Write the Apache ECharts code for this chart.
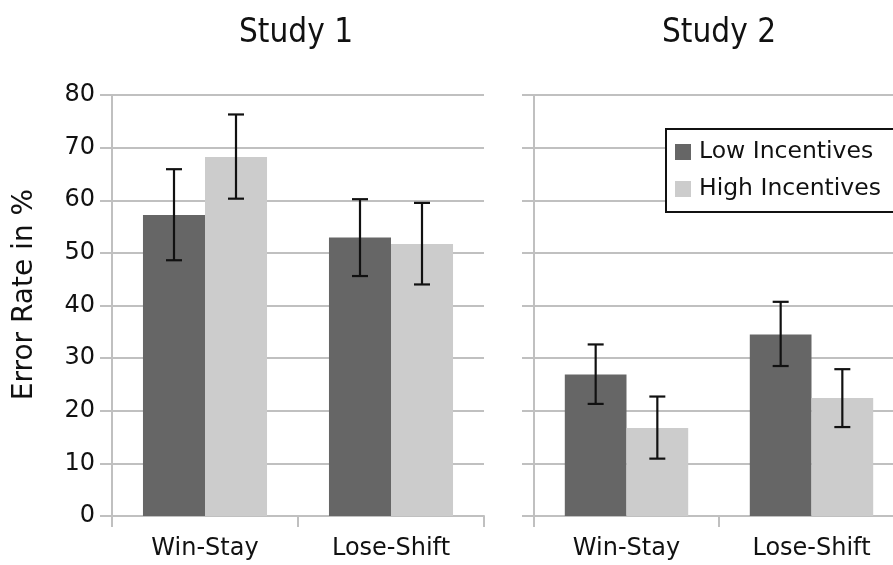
<!DOCTYPE html>
<html>
<head>
<meta charset="utf-8">
<script src="https://cdn.jsdelivr.net/npm/echarts@6/dist/echarts.min.js"></script>
<style>
  html, body { margin: 0; padding: 0; background: #fff; }
  #chart { width: 893px; height: 565px; }
</style>
</head>
<body>
<div id="chart"></div>
<script>
const categories = ['Win-Stay', 'Lose-Shift'];
const panelTitles = ['Study 1', 'Study 2'];
const seriesNames = ['Low Incentives', 'High Incentives'];

// error rate in %, per category
const study1Low = [57.2, 52.9];
const study1High = [68.2, 51.7];
const study2Low = [26.9, 34.5];
const study2High = [16.7, 22.4];

// error bars [lower, upper]
const study1LowErr = [[48.6, 65.9], [45.6, 60.2]];
const study1HighErr = [[60.3, 76.3], [44.0, 59.5]];
const study2LowErr = [[21.3, 32.6], [28.5, 40.7]];
const study2HighErr = [[10.9, 22.7], [16.9, 27.9]];

const yTicks = { min: 0, max: 80, interval: 10 };

const DARK = '#666666';
const LIGHT = '#cccccc';
const GRIDLINE = '#c0c0c0';
const FONT = 'DejaVu Sans';
const TITLE_FONT = '"DejaVu Sans Condensed", "DejaVu Sans"';

// error bar drawn at the centre of one of the two bars in a category
const errRender = (side) => (params, api) => {
  const x = api.value(0);
  const lo = api.coord([x, api.value(1)]);
  const hi = api.coord([x, api.value(2)]);
  const band = api.size([1, 0])[0];
  const cx = lo[0] + side * band / 6;
  const half = 8;
  const style = { stroke: '#111', lineWidth: 2.2 };
  return {
    type: 'group',
    children: [
      { type: 'line', shape: { x1: cx, y1: lo[1], x2: cx, y2: hi[1] }, style },
      { type: 'line', shape: { x1: cx - half, y1: lo[1], x2: cx + half, y2: lo[1] }, style },
      { type: 'line', shape: { x1: cx - half, y1: hi[1], x2: cx + half, y2: hi[1] }, style }
    ]
  };
};

const errData = (arr) => arr.map((e, i) => [i, e[0], e[1]]);

const makeXAxis = (gridIndex) => ({
  type: 'category',
  gridIndex,
  data: categories,
  axisLine: { lineStyle: { color: GRIDLINE, width: 2 } },
  axisTick: { show: true, length: 11, lineStyle: { color: GRIDLINE, width: 2 } },
  axisLabel: { color: '#111', fontFamily: FONT, fontSize: 24, margin: 21 }
});

const makeYAxis = (gridIndex, showLabels) => ({
  type: 'value',
  gridIndex,
  min: yTicks.min,
  max: yTicks.max,
  interval: yTicks.interval,
  name: showLabels ? 'Error Rate in %' : '',
  nameLocation: 'middle',
  nameRotate: 90,
  nameGap: 73,
  nameTextStyle: { color: '#111', fontFamily: FONT, fontSize: 28, padding: [0, 0, 0, 22] },
  axisLine: { show: true, lineStyle: { color: GRIDLINE, width: 2 } },
  axisTick: { show: true, inside: false, length: 12, lineStyle: { color: GRIDLINE, width: 2 } },
  axisLabel: { show: showLabels, color: '#111', fontFamily: FONT, fontSize: 24, margin: 17 },
  splitLine: { show: true, lineStyle: { color: GRIDLINE, width: 2 } }
});

const barSeries = (name, data, color, idx) => ({
  name,
  type: 'bar',
  xAxisIndex: idx,
  yAxisIndex: idx,
  data,
  barGap: '0%',
  barCategoryGap: '33.3%',
  itemStyle: { color },
  silent: true
});

const errSeries = (data, side, idx) => ({
  type: 'custom',
  xAxisIndex: idx,
  yAxisIndex: idx,
  data: errData(data),
  encode: { x: 0, y: [1, 2] },
  renderItem: errRender(side),
  z: 10,
  silent: true
});

const chart = echarts.init(document.getElementById('chart'), null, { renderer: 'canvas' });

chart.setOption({
  backgroundColor: '#fff',
  animation: false,
  title: [
    { text: panelTitles[0], left: 296, top: 17, textAlign: 'center', padding: 0,
      textStyle: { fontFamily: TITLE_FONT, fontSize: 33, fontWeight: 'normal', color: '#111' } },
    { text: panelTitles[1], left: 719, top: 17, textAlign: 'center', padding: 0,
      textStyle: { fontFamily: TITLE_FONT, fontSize: 33, fontWeight: 'normal', color: '#111' } }
  ],
  legend: {
    data: seriesNames,
    orient: 'vertical',
    left: 666,
    top: 129,
    itemWidth: 16,
    itemHeight: 16,
    itemGap: 13,
    icon: 'rect',
    padding: [11, 18, 11, 9],
    borderColor: '#111',
    borderWidth: 2,
    backgroundColor: '#fff',
    textStyle: { fontFamily: FONT, fontSize: 23.5, color: '#111', padding: [0, 0, 0, 3] },
    selectedMode: false,
    z: 20
  },
  grid: [
    { left: 112, top: 95, width: 372, height: 421, outerBoundsMode: 'none' },
    { left: 534, top: 95, width: 370, height: 421, outerBoundsMode: 'none' }
  ],
  xAxis: [makeXAxis(0), makeXAxis(1)],
  yAxis: [makeYAxis(0, true), makeYAxis(1, false)],
  series: [
    barSeries(seriesNames[0], study1Low, DARK, 0),
    barSeries(seriesNames[1], study1High, LIGHT, 0),
    barSeries(seriesNames[0], study2Low, DARK, 1),
    barSeries(seriesNames[1], study2High, LIGHT, 1),
    errSeries(study1LowErr, -1, 0),
    errSeries(study1HighErr, 1, 0),
    errSeries(study2LowErr, -1, 1),
    errSeries(study2HighErr, 1, 1)
  ]
});
</script>
</body>
</html>
